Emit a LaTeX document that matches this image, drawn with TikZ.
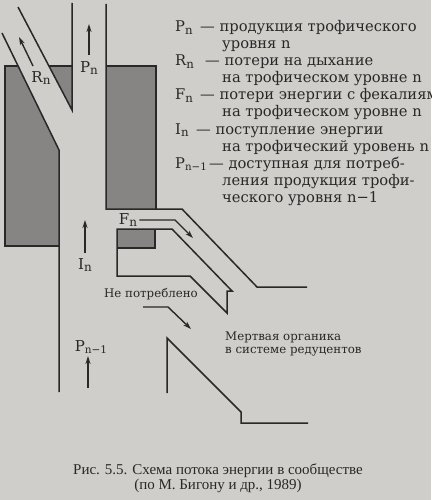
\documentclass[tikz,border=0pt]{standalone}
\usepackage{fontspec}
\setmainfont{DejaVu Serif}
\newfontfamily\capfont{Liberation Serif}
\usetikzlibrary{arrows.meta}
\definecolor{paper}{RGB}{208,206,203}
\definecolor{shade}{RGB}{134,133,132}
\definecolor{ink}{RGB}{40,40,40}
\newcommand{\lo}[1]{\raisebox{-0.3ex}{\scalebox{0.8}{#1}}}
\newcommand{\lot}[1]{\raisebox{-0.3ex}{\scalebox{0.7}{#1}}}
\begin{document}
\begin{tikzpicture}[x=1pt,y=-1pt,
  wall/.style={draw=ink,line width=1.5pt,line join=miter},
  blk/.style={fill=shade},
  flow/.style={draw=ink,line width=1.4pt,-{Stealth[length=8pt,width=5pt]}},
  legend/.style={inner sep=0pt,anchor=base west,text=ink,font=\fontsize{14.7}{17}\selectfont},
  lbl/.style={inner sep=0pt,text=ink,font=\fontsize{15}{17}\selectfont},
  small/.style={inner sep=0pt,anchor=base west,text=ink,font=\fontsize{11.8}{14}\selectfont},
  captext/.style={inner sep=0pt,anchor=base,text=ink,font=\capfont\fontsize{15}{15}\selectfont}]
\fill[paper] (0,0) rectangle (431,500);
\useasboundingbox (0,0) rectangle (431,500);

% gray blocks
\fill[blk] (5,66) -- (18,66) -- (59,150) -- (59,246) -- (5,246) -- cycle;
\fill[blk] (49,66) -- (72,66) -- (72,110) -- cycle;
\fill[blk] (106,66) rectangle (156,209);
\fill[blk] (117,229) rectangle (155,248);

% left walls
\draw[wall] (18,66) -- (5,66) -- (5,246) -- (59,246);
\draw[wall] (2,33) -- (59,150) -- (59,392);
\draw[wall] (18,7) -- (72,110) -- (72,3);
\draw[wall] (49,66) -- (72,66);

% right walls
\draw[wall] (106,4) -- (106,209) -- (182,209) -- (257,287) -- (307,287);
\draw[wall] (106,66) -- (156,66) -- (156,209);

% faeces channel
\draw[wall] (117,248) -- (155,248) -- (155,229);
\draw[wall] (232,291) -- (172,229) -- (117,229) -- (117,276) -- (190,276) -- (227,313) -- (227,291) -- cycle;

% dead organics
\draw[wall] (167,393) -- (167,338) -- (241,412) -- (241,423) -- (308,423);

% labels in diagram
\node[lbl] (pn) at (89,68) {P\lo{n}};
\node[lbl] (rn) at (41,78) {R\lo{n}};
\node[lbl] (fn) at (128,220) {F\lo{n}};
\node[lbl] (in) at (85,265) {I\lo{n}};
\node[lbl] (pn1) at (91,347) {P\lot{n−1}};
\node[small] (np) at (104,297) {Не потреблено};
\node[small] (mo1) at (225,340) {Мертвая органика};
\node[small] (mo2) at (225,353) {в системе редуцентов};

% arrows
\coordinate (pa) at (89,55); \coordinate (pb) at (89,24);
\draw[flow] (pa) -- (pb);
\coordinate (ra) at (33,66); \coordinate (rb) at (19,37);
\draw[flow] (ra) -- (rb);
\coordinate (ia) at (85,253); \coordinate (ib) at (85,220);
\draw[flow] (ia) -- (ib);
\coordinate (qa) at (88,388); \coordinate (qb) at (88,356);
\draw[flow] (qa) -- (qb);
\coordinate (fk) at (175,220); \coordinate (ft) at (193,238);
\draw[flow] (fn.east) ++(2,0) -- (fk) -- (ft);
\coordinate (na) at (143,307); \coordinate (nk) at (168,307); \coordinate (nt) at (191,329);
\draw[flow] (na) -- (nk) -- (nt);

% legend: symbols
\node[legend] (s1) at (175,32) {P\lo{n}};
\node[legend] (s2) at (175,66) {R\lo{n}};
\node[legend] (s3) at (175,100) {F\lo{n}};
\node[legend] (s4) at (175,134) {I\lo{n}};
\node[legend] (s5) at (175,168) {P\lot{n−1}};
% legend: texts
\node[legend] (l1) at (200,32) {— продукция трофического};
\node[legend] (l2) at (222,49) {уровня n};
\node[legend] (l3) at (205,66) {— потери на дыхание};
\node[legend] (l4) at (222,83) {на трофическом уровне n};
\node[legend] (l5) at (200,100) {— потери энергии с фекалиями};
\node[legend] (l6) at (222,117) {на трофическом уровне n};
\node[legend] (l7) at (196,134) {— поступление энергии};
\node[legend] (l8) at (222,151) {на трофический уровень n};
\node[legend] (l9) at (209,168) {— доступная для потреб-};
\node[legend] (l10) at (222,185) {ления продукция трофи-};
\node[legend] (l11) at (222,202) {ческого уровня n−1};

% caption
\node[captext] (c1) at (218,474) {Рис. 5.5. Схема потока энергии в сообществе};
\node[captext] (c2) at (218,489) {(по М. Бигону и др., 1989)};
\end{tikzpicture}
\end{document}
